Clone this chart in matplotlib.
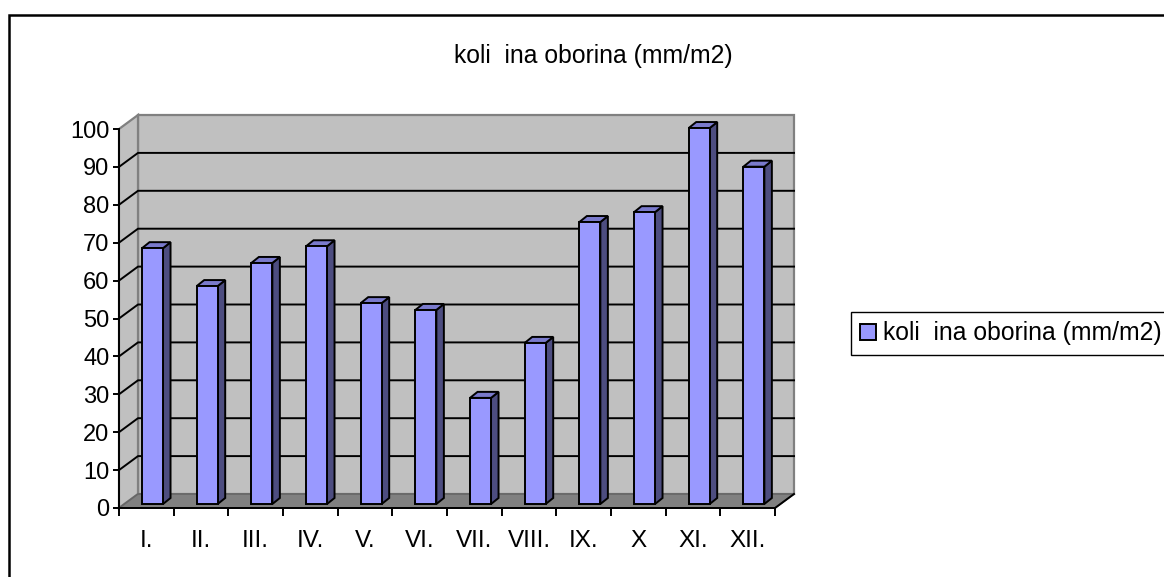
import matplotlib
matplotlib.use("Agg")
import matplotlib.pyplot as plt
from matplotlib.patches import Patch, Polygon, Rectangle

plt.rcParams["font.family"] = ["Liberation Sans", "DejaVu Sans"]

months = ["I.", "II.", "III.", "IV.", "V.", "VI.", "VII.", "VIII.", "IX.", "X", "XI.", "XII."]
rain = [67.5, 57.5, 63.6, 68, 53, 51.2, 28, 42.5, 74.4, 77, 99.2, 89]
y_ticks = [0, 10, 20, 30, 40, 50, 60, 70, 80, 90, 100]
label = "koli  ina oborina (mm/m2)"

W, H = 1164, 577
BAR = "#9999FF"
SIDE = "#4D4D80"
TOP = "#7A7ACC"
WALL = "#C0C0C0"
FLOOR = "#808080"

fig = plt.figure(figsize=(W / 100, H / 100), dpi=100)
# front plane of the fake 3d box
left, right, top, bottom = 119, 775, 129, 508
ax = fig.add_axes([left / W, 1 - bottom / H, (right - left) / W, (bottom - top) / H])
ax.set_xlim(0, 12)
ax.set_ylim(0, 100)
ax.patch.set_visible(False)

# pixel to data scale
px = 12 / (right - left)
py = 100 / (bottom - top)
dx, dy = 19 * px, 14 * py

fig.add_artist(Rectangle((9 / W, -0.02), 1.02, 1 - 15 / H + 0.02, transform=fig.transFigure,
                         fill=False, ec="black", lw=1.8))


def poly(pts, **kw):
    ax.add_patch(Polygon(pts, closed=True, clip_on=False, **kw))


# walls and floor
poly([(dx, dy), (12 + dx, dy), (12 + dx, 100 + dy), (dx, 100 + dy)], fc=WALL, ec=FLOOR, lw=1.6, zorder=1)
poly([(0, 0), (dx, dy), (dx, 100 + dy), (0, 100)], fc=WALL, ec=FLOOR, lw=1.6, zorder=1)
poly([(0, 0), (12, 0), (12 + dx, dy), (dx, dy)], fc=FLOOR, ec="#666666", lw=1.2, zorder=1)

# gridlines on the back and left walls
for v in y_ticks[1:-1]:
    ax.plot([0, dx, 12 + dx], [v, v + dy, v + dy], color="black", lw=1.4, clip_on=False, zorder=2)
ax.plot([12, 12 + dx], [0, dy], color="black", lw=1.4, clip_on=False, zorder=2)

# bars sit a little inside the floor
x_shift = 6.2 * px
y_shift = 4 * py
bar_w = 21 * px
sx, sy = 7.5 * px, 6 * py
xs = [i + 0.5 + x_shift for i in range(len(months))]
ax.bar(xs, rain, width=bar_w, bottom=y_shift, color=BAR, edgecolor="black", linewidth=1.4, clip_on=False, zorder=4)
for x, v in zip(xs, rain):
    x0, x1 = x - bar_w / 2, x + bar_w / 2
    y0, y1 = y_shift, y_shift + v
    poly([(x1, y0), (x1 + sx, y0 + sy), (x1 + sx, y1 + sy), (x1, y1)], fc=SIDE, ec="black", lw=1.4, zorder=3)
    poly([(x0, y1), (x1, y1), (x1 + sx, y1 + sy), (x0 + sx, y1 + sy)], fc=TOP, ec="black", lw=1.4, zorder=3)

for s in ["top", "right"]:
    ax.spines[s].set_visible(False)
for s in ["left", "bottom"]:
    ax.spines[s].set_linewidth(1.4)
    ax.spines[s].set_zorder(5)

ax.set_yticks(y_ticks)
ax.set_xticks(range(13))
ax.set_xticklabels([])
ax.set_xticks([i + 0.5 for i in range(12)], months, minor=True)
ax.tick_params(axis="x", which="major", length=5.5, width=1.4, direction="out")
ax.tick_params(axis="x", which="minor", length=0, pad=16, labelsize=17.5)
ax.tick_params(axis="y", length=4.5, width=1.4, labelsize=17, pad=2.5)

fig.text(593 / W, 1 - 56 / H, label, ha="center", va="center", fontsize=17.8)

handle = Patch(fc=BAR, ec="black", lw=1.4)
fig.legend(handles=[handle], labels=[label], loc="upper left", bbox_to_anchor=(851 / W, 1 - 312 / H),
           fontsize=17.8, fancybox=False, framealpha=1, edgecolor="black",
           handlelength=0.62, handleheight=0.62, handletextpad=0.28, borderpad=0.38, borderaxespad=0)

fig.savefig("out.png", dpi=100)
